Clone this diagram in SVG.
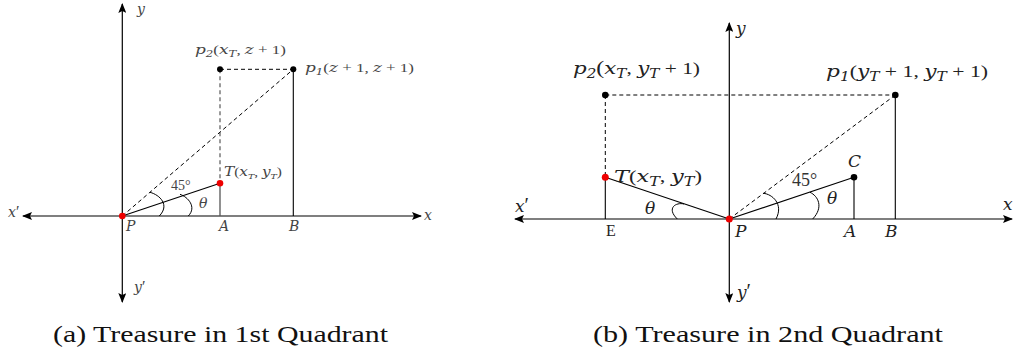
<svg xmlns="http://www.w3.org/2000/svg" width="1013" height="356" viewBox="0 0 1013 356">
<defs>
<marker id="arr" viewBox="0 0 10 8" refX="9" refY="4" markerWidth="10" markerHeight="8" markerUnits="userSpaceOnUse" orient="auto-start-reverse">
<path d="M0,0 L10,4 L0,8 L2,4 Z" fill="#000"/>
</marker>
</defs>
<style>
.ax{stroke:#000;stroke-width:1.2;fill:none}
.ln{stroke:#000;stroke-width:1.1;fill:none}
.gl{stroke:#555;stroke-width:1.3;fill:none}
.ds{stroke:#000;stroke-width:1;stroke-dasharray:4 3;fill:none}
.gds{stroke:#666;stroke-width:1.3;stroke-dasharray:4 3;fill:none}
.arc{stroke:#000;stroke-width:1;fill:none}
text{font-family:'Liberation Serif','Times New Roman',serif}
.m{font-family:'DejaVu Serif',serif;font-style:italic}
.u{font-family:'Liberation Serif',serif;font-style:normal}
.sm{font-size:13px;fill:#444}
.lg{font-size:17px;fill:#222}
.cap{font-size:24px;fill:#111;font-style:normal}
.bd{fill:#000}
.rd{fill:#e00}
</style>
<rect width="1013" height="356" fill="#fff"/>

<!-- Panel (a) -->
<g id="connectors-a">
<line class="ax" x1="122.3" y1="216" x2="122.3" y2="4" marker-end="url(#arr)"/>
<line class="ax" x1="122.3" y1="216" x2="122.3" y2="302" marker-end="url(#arr)"/>
<line class="ax" x1="122.3" y1="216" x2="23" y2="216" marker-end="url(#arr)"/>
<line class="ax" x1="122.3" y1="216" x2="421" y2="216" marker-end="url(#arr)"/>
<line class="ds" x1="220" y1="69.3" x2="293.3" y2="69.3"/>
<line class="gds" x1="220" y1="69.3" x2="220" y2="183.3"/>
<line class="ds" x1="122.3" y1="216" x2="293.3" y2="69.3"/>
<line class="ln" x1="293.3" y1="69.3" x2="293.3" y2="216"/>
<line class="gl" x1="220" y1="183.3" x2="220" y2="216"/>
<line class="ln" x1="122.3" y1="216" x2="220" y2="183.3"/>
<path class="arc" d="M150,192.3 C160,195 170,205 159.3,216"/>
<path class="arc" d="M180,194.3 C188,197 197,207 188.3,216"/>
</g>
<g id="node-p2a"><circle class="bd" cx="220" cy="69.3" r="3"/>
<text class="m sm" x="195" y="54" textLength="91" lengthAdjust="spacingAndGlyphs">p<tspan font-size="9" dy="3">2</tspan><tspan dy="-3" class="u">(</tspan>x<tspan font-size="9" dy="3">T</tspan><tspan dy="-3" class="u">, </tspan>z<tspan class="u"> + 1)</tspan></text></g>
<g id="node-p1a"><circle class="bd" cx="293.3" cy="69.3" r="3"/>
<text class="m sm" x="305" y="72" textLength="109" lengthAdjust="spacingAndGlyphs">p<tspan font-size="9" dy="3">1</tspan><tspan dy="-3" class="u">(</tspan>z<tspan class="u"> + 1, </tspan>z<tspan class="u"> + 1)</tspan></text></g>
<g id="node-Ta"><circle class="rd" cx="220" cy="183.3" r="3.3"/>
<text class="m sm" x="224" y="176" font-size="12" textLength="58" lengthAdjust="spacingAndGlyphs">T<tspan class="u">(</tspan>x<tspan font-size="8" dy="2.5">T</tspan><tspan dy="-2.5" class="u">, </tspan>y<tspan font-size="8" dy="2.5">T</tspan><tspan dy="-2.5" class="u">)</tspan></text></g>
<g id="node-Pa"><circle class="rd" cx="122.3" cy="216" r="3.3"/>
<text class="m sm" x="126" y="231" style="font-size:14px">P</text></g>
<g id="labels-a">
<text class="u sm" x="171" y="190" style="font-size:14px">45°</text>
<text class="m sm" x="199" y="208" style="font-size:14px">θ</text>
<text class="m sm" x="219" y="231" style="font-size:14px">A</text>
<text class="m sm" x="289" y="231" style="font-size:14px">B</text>
<text class="m sm" x="137" y="14" style="font-size:14px">y</text>
<text class="m sm" x="134" y="292" style="font-size:14px">y<tspan class="u" style="font-size:16px">′</tspan></text>
<text class="m sm" x="8" y="217" style="font-size:14px">x<tspan class="u" style="font-size:16px">′</tspan></text>
<text class="m sm" x="424" y="220" style="font-size:14px">x</text>
<text class="cap" x="53" y="342" textLength="335" lengthAdjust="spacingAndGlyphs">(a) Treasure in 1st Quadrant</text>
</g>

<!-- Panel (b) -->
<g id="connectors-b">
<line class="ax" x1="729.3" y1="219" x2="729.3" y2="23" marker-end="url(#arr)"/>
<line class="ax" x1="729.3" y1="219" x2="729.3" y2="302" marker-end="url(#arr)"/>
<line class="ax" x1="729.3" y1="219" x2="515" y2="219" marker-end="url(#arr)" stroke="#444"/>
<line class="ax" x1="729.3" y1="219" x2="1012" y2="219" marker-end="url(#arr)" stroke="#444"/>
<line class="ds" x1="605.3" y1="95" x2="895.3" y2="95"/>
<line class="ds" x1="605.3" y1="95" x2="605.3" y2="177.3"/>
<line class="ds" x1="729.3" y1="219" x2="895.3" y2="95"/>
<line class="ln" x1="895.3" y1="95" x2="895.3" y2="219"/>
<line class="ln" x1="605.3" y1="177.3" x2="605.3" y2="219"/>
<line class="ln" x1="854" y1="177.3" x2="854" y2="219"/>
<line class="ln" x1="729.3" y1="219" x2="605.3" y2="177.3"/>
<line class="ln" x1="729.3" y1="219" x2="854" y2="177.3"/>
<path class="arc" d="M684,204 C676,202 666,208 677.3,219"/>
<path class="arc" d="M763.3,193.3 C772,194 784,204 776,219"/>
<path class="arc" d="M810,192.3 C818,196 824,207 812.7,219"/>
</g>
<g id="node-p2b"><circle class="bd" cx="605.3" cy="95" r="3.3"/>
<text class="m lg" x="573" y="74" textLength="127" lengthAdjust="spacingAndGlyphs">p<tspan font-size="12" dy="4">2</tspan><tspan dy="-4" class="u" font-size="19">(</tspan>x<tspan font-size="12" dy="4">T</tspan><tspan dy="-4" class="u">, </tspan>y<tspan font-size="12" dy="4">T</tspan><tspan dy="-4" class="u"> + 1)</tspan></text></g>
<g id="node-p1b"><circle class="bd" cx="895.3" cy="95" r="3.3"/>
<text class="m lg" x="826" y="77" textLength="162" lengthAdjust="spacingAndGlyphs">p<tspan font-size="12" dy="4">1</tspan><tspan dy="-4" class="u">(</tspan>y<tspan font-size="12" dy="4">T</tspan><tspan dy="-4" class="u"> + 1, </tspan>y<tspan font-size="12" dy="4">T</tspan><tspan dy="-4" class="u"> + 1)</tspan></text></g>
<g id="node-Tb"><circle class="rd" cx="605.3" cy="177.3" r="3.5"/>
<text class="m lg" x="614" y="182" textLength="88" lengthAdjust="spacingAndGlyphs">T<tspan class="u">(</tspan>x<tspan font-size="12" dy="4">T</tspan><tspan dy="-4" class="u">, </tspan>y<tspan font-size="12" dy="4">T</tspan><tspan dy="-4" class="u">)</tspan></text></g>
<g id="node-Cb"><circle class="bd" cx="854" cy="177.3" r="3.3"/>
<text class="m lg" x="848" y="167">C</text></g>
<g id="node-Pb"><circle class="rd" cx="729.3" cy="219" r="3.5"/>
<text class="m lg" x="735" y="237">P</text></g>
<g id="labels-b">
<text class="u lg" x="792" y="186" style="fill:#333;font-size:18px">45°</text>
<text class="m lg" x="827" y="204">θ</text>
<text class="m lg" x="645" y="214">θ</text>
<text class="u" x="606" y="236" style="font-size:16px;fill:#222">E</text>
<text class="m lg" x="844" y="237">A</text>
<text class="m lg" x="885" y="237">B</text>
<text class="m lg" x="736" y="34">y</text>
<text class="m lg" x="737" y="298">y<tspan class="u" style="font-size:20px">′</tspan></text>
<text class="m lg" x="515" y="212">x<tspan class="u" style="font-size:20px">′</tspan></text>
<text class="m lg" x="1003" y="210">x</text>
<text class="cap" x="593" y="342" textLength="350" lengthAdjust="spacingAndGlyphs">(b) Treasure in 2nd Quadrant</text>
</g>
</svg>
